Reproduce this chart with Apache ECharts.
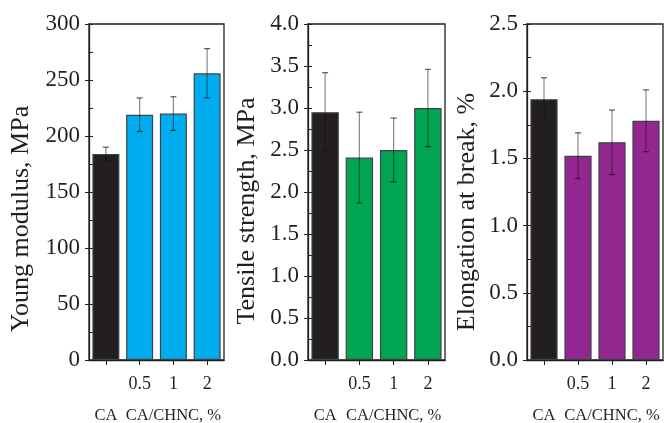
<!DOCTYPE html>
<html>
<head>
<meta charset="utf-8">
<script src="https://cdn.jsdelivr.net/npm/echarts@6/dist/echarts.min.js"></script>
<style>
html,body{margin:0;padding:0;background:#fff;}
#chart{width:664px;height:423px;}
</style>
</head>
<body>
<div id="chart"></div>
<script>
// ---- data ----
const categories = ['CA', '0.5', '1', '2'];
const tickRow = ['', '0.5', '1', '2'];
const groupRow = ['CA', '', 'CA/CHNC, %', ''];

const youngValues = [184, 219, 220, 256];
const youngErrors = [6, 15, 15, 22];
const tensileValues = [2.95, 2.41, 2.50, 3.00];
const tensileErrors = [0.47, 0.54, 0.38, 0.46];
const elongValues = [1.94, 1.52, 1.62, 1.78];
const elongErrors = [0.16, 0.17, 0.24, 0.23];

const titles = ['Young modulus, MPa', 'Tensile strength, MPa', 'Elongation at break, %'];
const yMax = [300, 4, 2.5];
const yInterval = [50, 0.5, 0.5];
const yMinorInterval = [25, 0.25, 0.25];
const barColors = ['#00aeef', '#00a651', '#92278f'];
const caColor = '#231f20';

// ---- layout ----
const FONT = '"Liberation Serif", "Times New Roman", serif';
const INK = '#231f20';
const grids = [
  {left: 89, right: 440, top: 24, bottom: 63},
  {left: 308, right: 219, top: 24, bottom: 63},
  {left: 527, right: 1, top: 24, bottom: 63}
];
const titlePos = [[21.5, 219], [247, 211], [467, 212]];

const valueSets = [youngValues, tensileValues, elongValues];
const errorSets = [youngErrors, tensileErrors, elongErrors];

const xAxes = [], yAxes = [], series = [], graphics = [];

grids.forEach((g, i) => {
  g.show = true;
  g.borderColor = INK;
  g.borderWidth = 1.3;
  g.containLabel = false;
  g.outerBoundsMode = 'none';
  xAxes.push({
    type: 'category', gridIndex: i, data: categories,
    axisLine: {lineStyle: {color: INK, width: 1.3}},
    axisTick: {show: true, alignWithLabel: true, length: 5, lineStyle: {color: INK}},
    axisLabel: {
      interval: 0, margin: 9, color: INK,
      formatter: (v, idx) => '{t|' + tickRow[idx] + '}' + (groupRow[idx] ? '\n{g|' + groupRow[idx] + '}' : ''),
      rich: {
        t: {fontFamily: FONT, fontSize: 18, lineHeight: 31, color: INK},
        g: {fontFamily: FONT, fontSize: 16.5, lineHeight: 31, color: INK}
      }
    },
    splitLine: {show: false}
  });
  const decimals = i === 0 ? 0 : 1;
  yAxes.push({
    type: 'value', gridIndex: i, min: 0, max: yMax[i], interval: yInterval[i],
    axisLine: {show: true, lineStyle: {color: INK, width: 1.3}},
    axisTick: {show: true, inside: false, length: 4, lineStyle: {color: INK}},
    axisLabel: {margin: 9, fontFamily: FONT, fontSize: 23, color: INK,
      formatter: v => v.toFixed(decimals)},
    splitLine: {show: false}
  });
  yAxes.push({
    type: 'value', gridIndex: i, min: 0, max: yMax[i], interval: yMinorInterval[i],
    position: 'left',
    axisLine: {show: false},
    axisTick: {show: true, inside: true, length: 4, lineStyle: {color: INK}},
    axisLabel: {show: false},
    splitLine: {show: false}
  });
  const vals = valueSets[i];
  series.push({
    type: 'bar', xAxisIndex: i, yAxisIndex: 2 * i,
    barCategoryGap: '20%',
    data: vals.map((v, k) => ({
      value: v,
      itemStyle: {color: k === 0 ? caColor : barColors[i], borderColor: '#3d4248', borderWidth: 1.2}
    })),
    z: 2
  });
  const errs = errorSets[i];
  series.push({
    type: 'custom', xAxisIndex: i, yAxisIndex: 2 * i, z: 5,
    data: vals.map((v, k) => [k, v - errs[k], v + errs[k]]),
    renderItem: (params, api) => {
      const x = api.value(0);
      const lo = api.coord([x, api.value(1)]);
      const hi = api.coord([x, api.value(2)]);
      const cap = 3;
      const style = {stroke: 'rgba(20,20,20,0.5)', lineWidth: 1.2, fill: null};
      const capStyle = {stroke: 'rgba(20,20,20,0.7)', lineWidth: 1.2, fill: null};
      return {
        type: 'group',
        children: [
          {type: 'line', shape: {x1: hi[0], y1: hi[1], x2: lo[0], y2: lo[1]}, style},
          {type: 'line', shape: {x1: hi[0] - cap, y1: hi[1], x2: hi[0] + cap, y2: hi[1]}, style: capStyle},
          {type: 'line', shape: {x1: lo[0] - cap, y1: lo[1], x2: lo[0] + cap, y2: lo[1]}, style: capStyle}
        ]
      };
    }
  });
  graphics.push({
    type: 'text', x: titlePos[i][0], y: titlePos[i][1], rotation: Math.PI / 2,
    style: {text: titles[i], fill: INK, font: '26px ' + FONT, align: 'center', verticalAlign: 'middle'}
  });
});

const chart = echarts.init(document.getElementById('chart'), null, {renderer: 'canvas'});
chart.setOption({
  animation: false,
  backgroundColor: '#ffffff',
  grid: grids,
  xAxis: xAxes,
  yAxis: yAxes,
  series: series,
  graphic: graphics
});
</script>
</body>
</html>
